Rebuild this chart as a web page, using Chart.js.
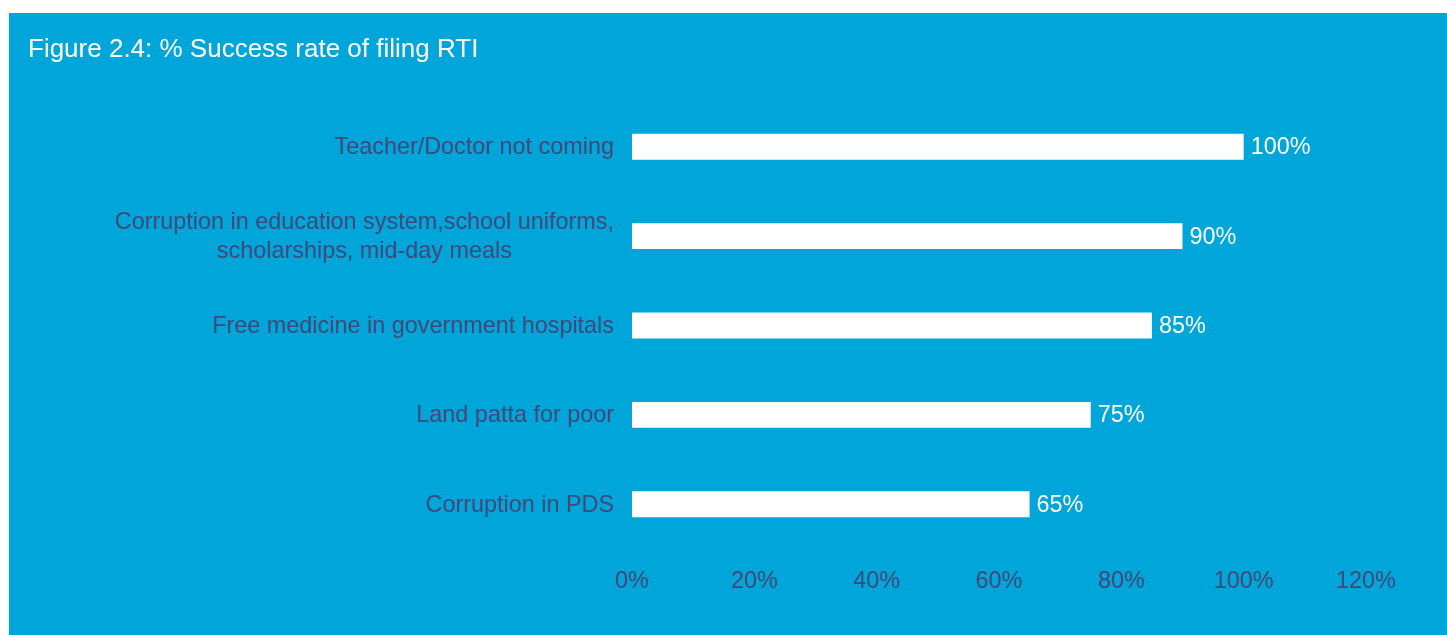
<!DOCTYPE html>
<html>
<head>
<meta charset="utf-8">
<script src="https://cdn.jsdelivr.net/npm/chart.js@4"></script>
<style>
  body { margin: 0; background: #fff; }
  #panel { position: absolute; left: 9px; top: 13px; width: 1438px; height: 622px; background: #00a6da; }
</style>
</head>
<body>
<div id="panel"><canvas id="chart" width="1438" height="622"></canvas></div>
<script>
// data
const categories = [
  'Teacher/Doctor not coming',
  ['Corruption in education system,school uniforms,', 'scholarships, mid-day meals'],
  'Free medicine in government hospitals',
  'Land patta for poor',
  'Corruption in PDS'
];
const successRate = [100, 90, 85, 75, 65];
const xTicks = [0, 20, 40, 60, 80, 100, 120];

const labelColor = '#424878';
const fontFamily = '"Liberation Sans", Arial, sans-serif';
const labelFont = '23.4px ' + fontFamily;

// white value labels at bar ends
const valueLabels = {
  id: 'valueLabels',
  afterDatasetsDraw(chart) {
    const ctx = chart.ctx;
    const meta = chart.getDatasetMeta(0);
    ctx.save();
    ctx.fillStyle = '#ffffff';
    ctx.font = labelFont;
    ctx.textAlign = 'left';
    ctx.textBaseline = 'middle';
    meta.data.forEach((bar, i) => {
      ctx.fillText(successRate[i] + '%', bar.x + 7, bar.y + 1);
    });
    ctx.restore();
  }
};

// category labels: right aligned, multi-line block centred on itself
const categoryLabels = {
  id: 'categoryLabels',
  afterDraw(chart) {
    const ctx = chart.ctx;
    const y = chart.scales.y;
    const lineH = 29;
    ctx.save();
    ctx.fillStyle = labelColor;
    ctx.font = labelFont;
    ctx.textBaseline = 'middle';
    categories.forEach((label, i) => {
      const lines = Array.isArray(label) ? label : [label];
      const cy = y.getPixelForTick(i) + 1;
      const right = y.right - 18;
      if (lines.length === 1) {
        ctx.textAlign = 'right';
        ctx.fillText(lines[0], right, cy);
      } else {
        const w = Math.max(...lines.map(l => ctx.measureText(l).width));
        ctx.textAlign = 'center';
        lines.forEach((l, j) => {
          ctx.fillText(l, right - w / 2, cy + (j - (lines.length - 1) / 2) * lineH);
        });
      }
    });
    ctx.restore();
  }
};

new Chart(document.getElementById('chart').getContext('2d'), {
  type: 'bar',
  data: {
    labels: categories,
    datasets: [{
      data: successRate,
      backgroundColor: '#ffffff',
      borderWidth: 0,
      categoryPercentage: 1,
      barPercentage: 0.29
    }]
  },
  options: {
    indexAxis: 'y',
    responsive: false,
    animation: false,
    layout: { padding: { left: 19, right: 81, top: 0, bottom: 0 } },
    plugins: {
      legend: { display: false },
      tooltip: { enabled: false },
      title: {
        display: true,
        text: 'Figure 2.4: % Success rate of filing RTI',
        align: 'start',
        color: '#ffffff',
        font: { family: fontFamily, size: 26, weight: 'normal', lineHeight: 1.2 },
        padding: { top: 21.4, bottom: 36.4 }
      }
    },
    scales: {
      x: {
        min: 0,
        max: 120,
        afterBuildTicks: (scale) => { scale.ticks = xTicks.map(v => ({ value: v })); },
        afterFit: (scale) => { scale.height = 86; },
        grid: { display: false },
        border: { display: false },
        ticks: {
          color: labelColor,
          padding: 11,
          font: { family: fontFamily, size: 23.4, lineHeight: 1.2 },
          callback: (v) => v + '%'
        }
      },
      y: {
        grid: { display: false },
        border: { display: false },
        afterFit: (scale) => { scale.width = 604; },
        ticks: { display: false }
      }
    }
  },
  plugins: [valueLabels, categoryLabels]
});
</script>
</body>
</html>
